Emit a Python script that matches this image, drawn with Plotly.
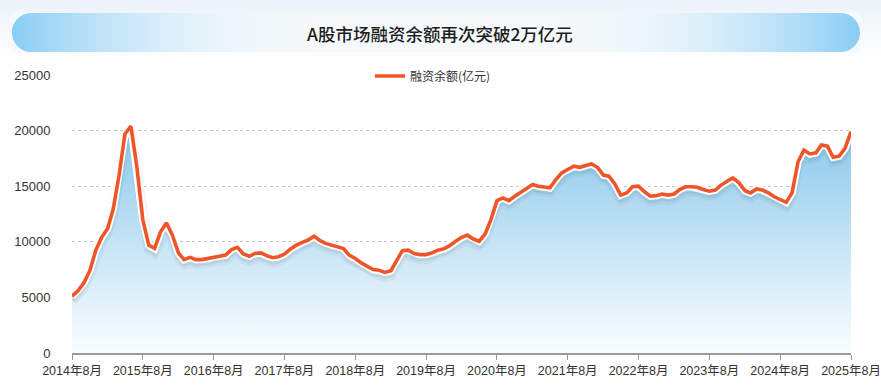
import math
import pandas as pd
import plotly.graph_objects as go

# ---------------- data ----------------
start_month = "2014-08-01"
balance = [
    5100, 5600, 6300, 7400, 9200, 10400, 11200, 12900, 16000, 19700,
    20400, 16800, 12000, 9700, 9400, 10900, 11700, 10600, 9000, 8400,
    8600, 8400, 8400, 8500, 8650, 8700, 8800, 9300, 9500, 8900,
    8700, 8950, 9000, 8750, 8570, 8660, 8900, 9350, 9700, 9950,
    10160, 10500, 10100, 9860, 9700, 9600, 9400, 8800, 8500, 8100,
    7800, 7500, 7450, 7250, 7400, 8300, 9200, 9250, 8950, 8850,
    8850, 9000, 9250, 9370, 9650, 10050, 10400, 10600, 10250, 10050,
    10700, 12000, 13700, 13950, 13700, 14100, 14450, 14800, 15150, 15000,
    14930, 14850, 15600, 16200, 16500, 16800, 16700, 16850, 17000, 16700,
    16000, 15900, 15200, 14200, 14400, 14950, 15000, 14500, 14100, 14150,
    14300, 14200, 14300, 14700, 14950, 14950, 14900, 14700, 14550, 14650,
    15100, 15450, 15750, 15300, 14600, 14400, 14750, 14650, 14400, 14050,
    13800, 13550, 14400, 17200, 18250, 17900, 18000, 18700, 18600, 17600,
    17700, 18400, 19900,
]
months = pd.date_range(start_month, periods=len(balance), freq="MS")

tick_dates = [f"{y}-08-01" for y in range(2014, 2026)]
tick_labels = [f"{y}年8月" for y in range(2014, 2026)]
y_ticks = [0, 5000, 10000, 15000, 20000, 25000]
y_tick_labels = ["0", "5000", "10000", "15000", "20000", "25000"]
series_name = "融资余额(亿元)"
title_text = "A股市场融资余额再次突破2万亿元"

# ---------------- geometry helpers ----------------
W, H = 881, 390
L, R, T, B = 72, 851, 75, 353


def px(x):
    return (x - L) / (R - L)


def py(y):
    return (B - y) / (B - T)


fig = go.Figure()

# area fill with vertical gradient
fig.add_trace(go.Scatter(
    x=months, y=balance, mode="lines", line=dict(width=0, color="rgba(0,0,0,0)"),
    fill="tozeroy",
    fillgradient=dict(type="vertical", start=0, stop=21000,
                      colorscale=[[0, "rgba(250,253,255,1)"], [0.45, "#c8e5f5"], [1, "#84c6ea"]]),
    showlegend=False, hoverinfo="skip",
))

# soft shadow under the line
for off, w, a in [(420, 10, 0.05), (300, 7, 0.08)]:
    fig.add_trace(go.Scatter(
        x=months, y=[v - off for v in balance], mode="lines",
        line=dict(color=f"rgba(40,60,80,{a})", width=w),
        showlegend=False, hoverinfo="skip",
    ))

# white halo
fig.add_trace(go.Scatter(
    x=months, y=balance, mode="lines", line=dict(color="white", width=7.5),
    showlegend=False, hoverinfo="skip",
))

# main line
fig.add_trace(go.Scatter(
    x=months, y=balance, mode="lines", name=series_name,
    line=dict(color="#ef5529", width=3.6),
))

# ---------------- header background + title banner ----------------
shapes = []
top_rgb = (236, 243, 249)
hy = 0
while hy < 62:
    t = (1 - hy / 62) ** 1.2
    c = tuple(int(255 + (top_rgb[i] - 255) * t) for i in range(3))
    shapes.append(dict(type="rect", xref="paper", yref="paper",
                       x0=px(0), x1=px(W), y0=py(hy + 2.5), y1=py(hy),
                       fillcolor=f"rgb{c}", line=dict(width=0), layer="below"))
    hy += 2

bx0, bx1, by0, by1 = 12, 860, 13, 52
r = (by1 - by0) / 2
cy = (by0 + by1) / 2
end_rgb = (137, 205, 245)
mid_rgb = (245, 249, 252)
step = 4
x = bx0
while x < bx1:
    xc = x + step / 2
    d = min(xc - bx0, bx1 - xc)
    t = max(0.0, 1 - d / 300) ** 2.0
    c = tuple(int(mid_rgb[i] + (end_rgb[i] - mid_rgb[i]) * t) for i in range(3))
    shapes.append(dict(type="rect", xref="paper", yref="paper",
                       x0=px(x), x1=px(min(x + step + 0.6, bx1)), y0=py(by1), y1=py(by0),
                       fillcolor=f"rgb{c}", line=dict(width=0), layer="above"))
    x += step

k = 0.5523


def P(xx, yy):
    return f"{px(xx):.5f},{py(yy):.5f}"


def mask_color(yy):
    t = (1 - yy / 62) ** 1.2
    return "rgb" + str(tuple(int(255 + (top_rgb[i] - 255) * t) for i in range(3)))


cxl = bx0 + r
left_mask = (f"M {P(bx0 - 1, by0 - 1)} L {P(cxl, by0 - 1)} L {P(cxl, by0)} "
             f"C {P(cxl - k * r, by0)} {P(bx0, cy - k * r)} {P(bx0, cy)} "
             f"C {P(bx0, cy + k * r)} {P(cxl - k * r, by1)} {P(cxl, by1)} "
             f"L {P(cxl, by1 + 1)} L {P(bx0 - 1, by1 + 1)} Z")
cxr = bx1 - r
right_mask = (f"M {P(bx1 + 1, by0 - 1)} L {P(cxr, by0 - 1)} L {P(cxr, by0)} "
              f"C {P(cxr + k * r, by0)} {P(bx1, cy - k * r)} {P(bx1, cy)} "
              f"C {P(bx1, cy + k * r)} {P(cxr + k * r, by1)} {P(cxr, by1)} "
              f"L {P(cxr, by1 + 1)} L {P(bx1 + 1, by1 + 1)} Z")
for pth in (left_mask, right_mask):
    shapes.append(dict(type="path", xref="paper", yref="paper", path=pth,
                       fillcolor=mask_color(cy), line=dict(width=0), layer="above"))

fig.update_layout(
    width=W, height=H,
    margin=dict(l=L, r=W - R, t=T, b=H - B, pad=0, autoexpand=False),
    paper_bgcolor="white", plot_bgcolor="rgba(0,0,0,0)",
    font=dict(family="Liberation Sans, Noto Sans CJK SC, sans-serif", color="#333", size=12),
    shapes=shapes,
    annotations=[dict(
        text=title_text, xref="paper", yref="paper", x=px(440), y=py(33),
        xanchor="center", yanchor="middle", showarrow=False,
        font=dict(family="Noto Sans CJK SC", size=17.5, color="#1e1e1e", weight=500),
    )],
    legend=dict(orientation="h", x=px(370), y=py(76), xanchor="left", yanchor="middle",
                bgcolor="rgba(0,0,0,0)", font=dict(size=12, color="#333",
                family="Noto Sans CJK SC, sans-serif"), itemwidth=30),
    xaxis=dict(
        range=[months[0], months[-1]], tickmode="array", tickvals=tick_dates, ticktext=tick_labels,
        showgrid=False, zeroline=False, showline=True, linecolor="#9a9a9a", linewidth=1.5,
        ticks="outside", ticklen=5, tickcolor="#9a9a9a", tickwidth=1.2, automargin=False,
        tickfont=dict(size=12.5, color="#333", family="Liberation Sans, Noto Sans CJK SC"),
    ),
    yaxis=dict(
        range=[0, 25000], tickmode="array", tickvals=y_ticks, ticktext=y_tick_labels,
        showgrid=True, gridcolor="#c4c4c4", griddash="dot", gridwidth=1.2,
        zeroline=False, showline=False, automargin=False,
        ticks="outside", ticklen=18, tickcolor="rgba(0,0,0,0)",
        tickfont=dict(size=13, color="#333", family="Liberation Sans"),
    ),
    hovermode=False,
)

fig.write_html("out.html", config={"displayModeBar": False},
               post_script="document.body.style.margin='0px';document.body.style.overflow='hidden';")
